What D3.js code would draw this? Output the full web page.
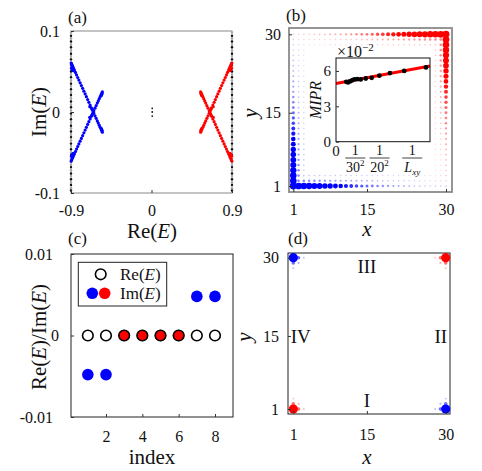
<!DOCTYPE html>
<html><head><meta charset="utf-8">
<script src="https://cdn.jsdelivr.net/npm/d3@7"></script>
<style>
html,body{margin:0;padding:0;background:#fff;}
svg{display:block;}
</style></head><body>
<svg id="c" width="482" height="471"></svg>
<script>
// ---------------- DATA ----------------
// Panel (a): complex spectrum
const aXTicks = [-0.9, 0, 0.9];
const aXTickLabels = ["-0.9", "0", "0.9"];
const aYTicks = [-0.1, 0, 0.1];
const aYTickLabels = ["-0.1", "0", "0.1"];
const aEdgeBlackIm = [-0.097,-0.090,-0.083,-0.076,-0.068,-0.061,-0.053,-0.046,-0.039,-0.031,-0.024,-0.017,-0.009,-0.002,0.006,0.013,0.021,0.028,0.035,0.043,0.050,0.058,0.065,0.072,0.080,0.087,0.094];
const aEdgeGrayIm  = [-0.094,-0.087,-0.079,-0.072,-0.065,-0.057,-0.050,-0.042,-0.035,-0.028,-0.020,-0.013,-0.005,0.002,0.009,0.017,0.024,0.032,0.039,0.046,0.054,0.061,0.069,0.076,0.083,0.091,0.098];
const aEdgeRe = [-0.9, 0.9];
const aBlueRe = [-0.898,-0.893,-0.887,-0.880,-0.872,-0.862,-0.850,-0.838,-0.825,-0.812,-0.798,-0.784,-0.770,-0.756,-0.742,-0.728,-0.714,-0.700,-0.686,-0.672,-0.658,-0.645,-0.632,-0.619,-0.606,-0.595,-0.584,-0.574,-0.565,-0.556,-0.549,-0.895,-0.889,-0.876,-0.690,-0.665,-0.560,-0.552,
                 -0.898,-0.893,-0.887,-0.880,-0.872,-0.862,-0.850,-0.838,-0.825,-0.812,-0.798,-0.784,-0.770,-0.756,-0.742,-0.728,-0.714,-0.700,-0.686,-0.672,-0.658,-0.645,-0.632,-0.619,-0.606,-0.595,-0.584,-0.574,-0.565,-0.556,-0.549,-0.895,-0.889,-0.876,-0.690,-0.665,-0.560,-0.552];
const aBlueIm = [0.0605,0.0593,0.0578,0.0561,0.0541,0.0517,0.0488,0.0458,0.0426,0.0394,0.0360,0.0326,0.0292,0.0257,0.0223,0.0189,0.0154,0.0120,0.0086,0.0051,0.0017,-0.0015,-0.0047,-0.0078,-0.0110,-0.0137,-0.0164,-0.0189,-0.0211,-0.0233,-0.0250,0.0545,0.0525,0.0510,0.0065,0.0035,-0.0205,-0.0225,
                 -0.0605,-0.0593,-0.0578,-0.0561,-0.0541,-0.0517,-0.0488,-0.0458,-0.0426,-0.0394,-0.0360,-0.0326,-0.0292,-0.0257,-0.0223,-0.0189,-0.0154,-0.0120,-0.0086,-0.0051,-0.0017,0.0015,0.0047,0.0078,0.0110,0.0137,0.0164,0.0189,0.0211,0.0233,0.0250,-0.0545,-0.0525,-0.0510,-0.0065,-0.0035,0.0205,0.0225];
const aRedRe = [0.898,0.893,0.887,0.880,0.872,0.862,0.850,0.838,0.825,0.812,0.798,0.784,0.770,0.756,0.742,0.728,0.714,0.700,0.686,0.672,0.658,0.645,0.632,0.619,0.606,0.595,0.584,0.574,0.565,0.556,0.549,0.895,0.889,0.876,0.690,0.665,0.560,0.552,
                0.898,0.893,0.887,0.880,0.872,0.862,0.850,0.838,0.825,0.812,0.798,0.784,0.770,0.756,0.742,0.728,0.714,0.700,0.686,0.672,0.658,0.645,0.632,0.619,0.606,0.595,0.584,0.574,0.565,0.556,0.549,0.895,0.889,0.876,0.690,0.665,0.560,0.552];
const aRedIm = aBlueIm.slice();
const aCenterRe = [-0.003, -0.003, -0.003];
const aCenterIm = [0.0045, 0.0, -0.0050];

// Panel (b): edge-state distribution (amplitude along the edge, by depth row)
const bTicks = [1, 15, 30];
const bBlueRow1 = [1.00,0.97,0.94,0.90,0.86,0.82,0.77,0.72,0.66,0.60,0.54,0.48,0.42,0.37,0.33,0.29,0.26,0.23,0.20,0.18,0.16,0.14,0.12,0.11,0.10,0.09,0.08,0.07,0.07,0.06];
const bBlueRow2 = [0.26,0.26,0.25,0.24,0.23,0.22,0.21,0.20,0.19,0.18,0.17,0.16,0.15,0.14,0.13,0.12,0.11,0.10,0.09,0.09,0.08,0.07,0.06,0.06,0.05,0.05,0.04,0.04,0.03,0.03];
const bBlueRow3 = [0.10,0.10,0.10,0.09,0.09,0.09,0.08,0.08,0.08,0.07,0.07,0.07,0.06,0.06,0.06,0.05,0.05,0.05,0.05,0.04,0.04,0.04,0.04,0.03,0.03,0.03,0.03,0.02,0.02,0.02];
const bRedRow1  = [1.00,0.98,0.95,0.92,0.88,0.84,0.79,0.74,0.68,0.62,0.56,0.50,0.44,0.39,0.34,0.30,0.27,0.24,0.21,0.19,0.17,0.15,0.13,0.12,0.11,0.10,0.09,0.08,0.07,0.07];
const bRedRow2  = [0.26,0.26,0.25,0.24,0.23,0.22,0.21,0.20,0.19,0.18,0.17,0.16,0.15,0.14,0.13,0.12,0.11,0.10,0.09,0.09,0.08,0.07,0.06,0.06,0.05,0.05,0.04,0.04,0.03,0.03];
const bRedRow3  = [0.10,0.10,0.10,0.09,0.09,0.09,0.08,0.08,0.08,0.07,0.07,0.07,0.06,0.06,0.06,0.05,0.05,0.05,0.05,0.04,0.04,0.04,0.04,0.03,0.03,0.03,0.03,0.02,0.02,0.02];

// Inset of (b): MIPR vs 1/L^2
const inX = [0.00059,0.00069,0.00080,0.00092,0.00105,0.00122,0.00142,0.00171,0.00205,0.00249,0.00310,0.00392,0.00517];
const inY = [5.08,5.03,5.11,5.20,5.28,5.30,5.28,5.36,5.42,5.60,5.82,6.00,6.30];
const inFitX = [0, 0.0054];
const inFitY = [4.93, 6.42];
const inYTicks = [0, 3, 6];
const inXTickVals = [1/900, 1/400, 0.00438];
const inXTickDen = ["30", "20", "L"];

// Panel (c): eigenvalues
const cIndex = [1, 2, 3, 4, 5, 6, 7, 8];
const cRe = [0, 0, 0, 0, 0, 0, 0, 0];
const cIm = [-0.0048, -0.0048, 0, 0, 0, 0, 0.0048, 0.0048];
const cImColor = ["blue", "blue", "red", "red", "red", "red", "blue", "blue"];
const cXTicks = [2, 4, 6, 8];
const cYTicks = [-0.01, 0, 0.01];
const cYTickLabels = ["-0.01", "0", "0.01"];

// Panel (d): corner states
const dX   = [1, 2, 1, 2, 3, 1,   30, 29, 30, 29, 28, 30,   1, 2, 1, 2, 3, 1,   30, 29, 30, 29, 28, 30];
const dY   = [1, 1, 2, 2, 1, 3,   1, 1, 2, 2, 1, 3,   30, 30, 29, 29, 30, 28,   30, 30, 29, 29, 30, 28];
const dAmp = [1, .3, .3, .12, .08, .08,  1, .3, .3, .12, .08, .08,  1, .3, .3, .12, .08, .08,  1, .3, .3, .12, .08, .08];
const dCol = ["red","red","red","red","red","red","blue","blue","blue","blue","blue","blue","blue","blue","blue","blue","blue","blue","red","red","red","red","red","red"];
const dRegions = ["I", "II", "III", "IV"];
const dRegionX = [15, 29.05, 15, 2.4];
const dRegionY = [1, 15, 30, 15];

// ---------------- DRAWING ----------------
const SERIF = '"Liberation Serif","Times New Roman",serif';
const COL = {blue: "#0000ff", red: "#ff0000"};
const svg = d3.select("#c").attr("font-family", SERIF);

function frame(l, t, r, b, stroke, sw) {
  svg.append("rect").attr("x", l).attr("y", t).attr("width", r - l).attr("height", b - t)
    .attr("fill", "none").attr("stroke", stroke).attr("stroke-width", sw);
}
function styleAxis(g, fs) {
  g.attr("font-family", SERIF).attr("font-size", fs);
  g.select(".domain").remove();
  g.selectAll(".tick line").attr("stroke", "#333");
  g.selectAll(".tick text").attr("fill", "#111");
}
function axisB(scale, y, vals, labels, pad, fs) {
  const g = svg.append("g").attr("transform", `translate(0,${y})`)
    .call(d3.axisBottom(scale).tickValues(vals).tickFormat((d, i) => labels[i]).tickSize(-3).tickPadding(pad));
  styleAxis(g, fs || 16);
  return g;
}
function axisL(scale, x, vals, labels, pad, fs) {
  const g = svg.append("g").attr("transform", `translate(${x},0)`)
    .call(d3.axisLeft(scale).tickValues(vals).tickFormat((d, i) => labels[i]).tickSize(-3).tickPadding(pad));
  styleAxis(g, fs || 16);
  return g;
}
function rich(x, y, parts, opt) {
  opt = opt || {};
  const t = svg.append("text").attr("x", x).attr("y", y)
    .attr("font-size", opt.fs || 21).attr("text-anchor", opt.anchor || "middle").attr("fill", "#111");
  if (opt.rotate) t.attr("transform", `rotate(-90,${x},${y})`);
  parts.forEach(p => {
    const s = t.append("tspan").text(p.t);
    if (p.i) s.attr("font-style", "italic");
    if (p.dy) s.attr("dy", p.dy);
    if (p.fs) s.attr("font-size", p.fs);
  });
  return t;
}
const ReE = [{t: "Re("}, {t: "E", i: 1}, {t: ")"}];
const ImE = [{t: "Im("}, {t: "E", i: 1}, {t: ")"}];

// ===== Panel (a) =====
{
  const x = d3.scaleLinear().domain([-0.9, 0.9]).range([71, 232]);
  const y = d3.scaleLinear().domain([-0.1, 0.1]).range([193, 31]);
  frame(71, 31, 232, 193, "#888", 1);
  aEdgeRe.forEach(re => {
    svg.append("g").selectAll("circle").data(aEdgeGrayIm).join("circle")
      .attr("cx", x(re)).attr("cy", d => y(d)).attr("r", 1.2).attr("fill", "#a8a8a8");
    svg.append("g").selectAll("circle").data(aEdgeBlackIm).join("circle")
      .attr("cx", x(re)).attr("cy", d => y(d)).attr("r", 1.2).attr("fill", "#111");
  });
  svg.append("g").selectAll("circle").data(aBlueRe).join("circle")
    .attr("cx", d => x(d)).attr("cy", (d, i) => y(aBlueIm[i])).attr("r", 1.6).attr("fill", COL.blue);
  svg.append("g").selectAll("circle").data(aRedRe).join("circle")
    .attr("cx", d => x(d)).attr("cy", (d, i) => y(aRedIm[i])).attr("r", 1.6).attr("fill", COL.red);
  svg.append("g").selectAll("circle").data(aCenterRe).join("circle")
    .attr("cx", d => x(d) + 1).attr("cy", (d, i) => y(aCenterIm[i])).attr("r", 0.9).attr("fill", "#111");
  axisB(x, 193, aXTicks, aXTickLabels, 12);
  axisL(y, 71, aYTicks, aYTickLabels, 11);
  rich(152, 238, ReE);
  rich(46, 112, ImE, {rotate: 1});
  rich(68, 23, [{t: "(a)"}], {fs: 17, anchor: "start"});
}

// ===== Panel (b) =====
{
  const x = d3.scaleLinear().domain([1, 30]).range([293.3, 446]);
  const y = d3.scaleLinear().domain([1, 30]).range([186, 34.3]);
  const blueRows = [bBlueRow1, bBlueRow2, bBlueRow3];
  const redRows = [bRedRow1, bRedRow2, bRedRow3];
  const pts = [];
  for (let i = 1; i <= 30; i++) for (let j = 1; j <= 30; j++) {
    let ab = 0, ar = 0;
    if (j - 1 < 3) ab = Math.max(ab, blueRows[j - 1][i - 1]);
    if (i - 1 < 3) ab = Math.max(ab, blueRows[i - 1][j - 1]);
    if (30 - j < 3) ar = Math.max(ar, redRows[30 - j][30 - i]);
    if (30 - i < 3) ar = Math.max(ar, redRows[30 - i][30 - j]);
    if (ab > 0) pts.push({i, j, a: ab, c: "blue"});
    if (ar > 0) pts.push({i, j, a: ar, c: "red"});
  }
  pts.sort((p, q) => p.a - q.a);
  const rS = a => 0.55 + 2.9 * a;
  const colS = (c, a) => d3.interpolateRgb("#ffffff", COL[c])(Math.min(1, 0.1 + 1.5 * a));
  svg.append("g").selectAll("circle").data(pts).join("circle")
    .attr("cx", d => x(d.i)).attr("cy", d => y(d.j)).attr("r", d => rS(d.a))
    .attr("fill", d => colS(d.c, d.a));
  frame(289, 28, 452, 192, "#8a8a8a", 1.8);
  axisB(x, 192, bTicks, bTicks.map(String), 12);
  axisL(y, 289, bTicks, bTicks.map(String), 8);
  rich(367, 236, [{t: "x", i: 1}]);
  rich(257, 113, [{t: "y", i: 1}], {rotate: 1});
  rich(286, 21, [{t: "(b)"}], {fs: 17, anchor: "start"});

  // inset
  const ix = d3.scaleLinear().domain([0, 0.0054]).range([336, 430]);
  const iy = d3.scaleLinear().domain([0, 7.1]).range([141.7, 58]);
  svg.append("rect").attr("x", 336).attr("y", 58).attr("width", 94).attr("height", 83.7).attr("fill", "#fff");
  svg.append("path").attr("d", d3.line().x((d, i) => ix(d)).y((d, i) => iy(inFitY[i]))(inFitX))
    .attr("stroke", COL.red).attr("stroke-width", 3).attr("fill", "none");
  svg.append("g").selectAll("circle").data(inX).join("circle")
    .attr("cx", d => ix(d)).attr("cy", (d, i) => iy(inY[i])).attr("r", 2.4).attr("fill", "#000");
  frame(336, 58, 430, 141.7, "#111", 1);
  axisL(iy, 336, inYTicks, inYTicks.map(String), 5, 15);
  svg.append("text").attr("x", 336).attr("y", 156).attr("text-anchor", "middle").attr("font-size", 15).attr("fill", "#111").text("0");
  inXTickVals.forEach((v, k) => {
    const cx = ix(v);
    svg.append("text").attr("x", cx).attr("y", 155).attr("text-anchor", "middle").attr("font-size", 14).attr("fill", "#111").text("1");
    svg.append("line").attr("x1", cx - 10).attr("x2", cx + 10).attr("y1", 158).attr("y2", 158).attr("stroke", "#111").attr("stroke-width", 0.8);
    const t = svg.append("text").attr("x", cx).attr("y", 172).attr("text-anchor", "middle").attr("font-size", 14).attr("fill", "#111");
    if (inXTickDen[k] === "L") {
      t.append("tspan").attr("font-style", "italic").text("L");
      t.append("tspan").attr("font-style", "italic").attr("font-size", 9).attr("dy", 3).text("xy");
    } else {
      t.append("tspan").text(inXTickDen[k]);
      t.append("tspan").attr("font-size", 9).attr("dy", -6).text("2");
    }
  });
  const ex = svg.append("text").attr("x", 337).attr("y", 57).attr("font-size", 16).attr("fill", "#111");
  ex.append("tspan").text("×10");
  ex.append("tspan").attr("font-size", 11).attr("dy", -6).text("−2");
  rich(321, 100, [{t: "MIPR", i: 1}], {rotate: 1, fs: 16});
}

// ===== Panel (c) =====
{
  const x = d3.scaleLinear().domain([2, 8]).range([106, 215]);
  const y = d3.scaleLinear().domain([-0.01, 0.01]).range([417, 254]);
  frame(71, 254, 233, 417, "#222", 1);
  svg.append("g").selectAll("circle").data(cIndex).join("circle")
    .attr("cx", d => x(d)).attr("cy", (d, i) => y(cIm[i])).attr("r", 5.8)
    .attr("fill", (d, i) => COL[cImColor[i]]);
  svg.append("g").selectAll("circle").data(cIndex).join("circle")
    .attr("cx", d => x(d)).attr("cy", (d, i) => y(cRe[i])).attr("r", 5.3)
    .attr("fill", "none").attr("stroke", "#000").attr("stroke-width", 1.6);
  axisB(x, 417, cXTicks, cXTicks.map(String), 14);
  const gl = axisL(y, 71, cYTicks, cYTickLabels, 12);
  gl.selectAll(".tick text").attr("dx", (d) => d === 0 ? 0 : -6);
  rich(152, 464, [{t: "index"}]);
  rich(46, 337, [...ReE, {t: "/"}, ...ImE], {rotate: 1});
  rich(68, 244, [{t: "(c)"}], {fs: 17, anchor: "start"});
  // legend
  frame(78.3, 262.3, 166.7, 306, "#222", 1);
  svg.append("circle").attr("cx", 100.7).attr("cy", 274.3).attr("r", 5.3).attr("fill", "none").attr("stroke", "#000").attr("stroke-width", 1.6);
  svg.append("circle").attr("cx", 92.3).attr("cy", 293.3).attr("r", 5.8).attr("fill", COL.blue);
  svg.append("circle").attr("cx", 104.7).attr("cy", 293.3).attr("r", 5.8).attr("fill", COL.red);
  rich(120, 280, ReE, {fs: 17, anchor: "start"});
  rich(120, 299, ImE, {fs: 17, anchor: "start"});
}

// ===== Panel (d) =====
{
  const x = d3.scaleLinear().domain([1, 30]).range([293.3, 445.7]);
  const y = d3.scaleLinear().domain([1, 30]).range([409, 257.7]);
  frame(288, 253, 450, 414, "#222", 1);
  const idx = d3.range(dX.length).sort((p, q) => dAmp[p] - dAmp[q]);
  svg.append("g").selectAll("circle").data(idx).join("circle")
    .attr("cx", k => x(dX[k])).attr("cy", k => y(dY[k])).attr("r", k => 0.6 + 4.0 * dAmp[k])
    .attr("fill", k => d3.interpolateRgb("#ffffff", COL[dCol[k]])(Math.min(1, 0.15 + 1.4 * dAmp[k])));
  axisB(x, 414, bTicks, bTicks.map(String), 15);
  axisL(y, 288, bTicks, bTicks.map(String), 9);
  dRegions.forEach((t, k) => {
    svg.append("text").attr("x", x(dRegionX[k])).attr("y", y(dRegionY[k]))
      .attr("dy", dRegionY[k] === 1 ? -2 : dRegionY[k] === 30 ? 15 : 7)
      .attr("text-anchor", "middle").attr("font-size", 19).attr("fill", "#111").text(t);
  });
  rich(367, 464, [{t: "x", i: 1}]);
  rich(251, 337, [{t: "y", i: 1}], {rotate: 1});
  rich(288, 244, [{t: "(d)"}], {fs: 17, anchor: "start"});
}
</script>
</body></html>
